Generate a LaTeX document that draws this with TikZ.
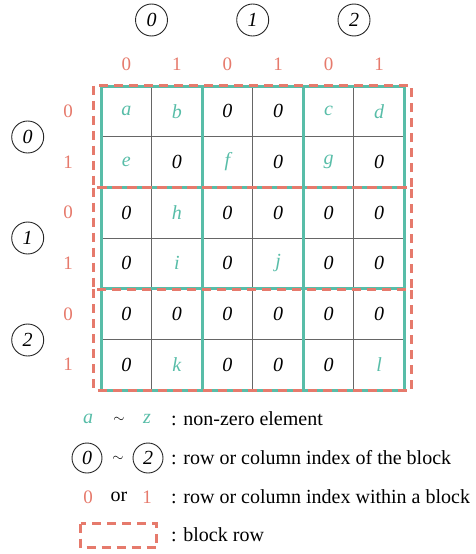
\documentclass[tikz,border=0pt]{standalone}
\usepackage{fontspec}
\setmainfont{Liberation Serif}
\definecolor{tealA}{RGB}{88,189,168}
\definecolor{redA}{RGB}{230,122,108}
\begin{document}
\begin{tikzpicture}[x=1pt,y=-1pt,
  font=\fontsize{20}{24}\selectfont,
  zr/.style={font=\fontsize{20}{24}\selectfont\itshape,text=black},
  nz/.style={font=\fontsize{20}{24}\selectfont\itshape,text=tealA},
  idx/.style={text=redA,font=\fontsize{19}{24}\selectfont},
  blk/.style={circle,draw=black!85,line width=0.9pt,minimum size=32pt,inner sep=0pt,font=\fontsize{20}{24}\selectfont\itshape},
  lblk/.style={blk,minimum size=30pt},
  tld/.style={font=\fontsize{14}{16}\selectfont,inner sep=0pt},
  thinline/.style={draw=black!60,line width=0.9pt},
  tealline/.style={draw=tealA,line width=3pt},
  brow/.style={draw=redA,line width=3pt,dash pattern=on 9pt off 6pt},
  legtxt/.style={anchor=west,inner sep=0pt}
]
\useasboundingbox (0,0) rectangle (475,554);
\def\cw{50.58}
\def\ch{50.67}
% cells
\foreach [count=\i from 0] \row in {{a,b,0,0,c,d},{e,0,f,0,g,0},{0,h,0,0,0,0},{0,i,0,j,0,0},{0,0,0,0,0,0},{0,k,0,0,0,l}} {
  \foreach [count=\j from 0] \v in \row {
    \if0\v \def\st{zr}\else\def\st{nz}\fi
    \node[\st] (c\i\j) at ({101+\cw*(\j+0.5)},{86+\ch*(\i+0.5)}) {\v};
  }
}
% thin lines
\foreach \j in {1,3,5} \draw[thinline] ({101+\cw*\j},86) -- ({101+\cw*\j},390);
\foreach \i in {1,3,5} \draw[thinline] (101,{86+\ch*\i}) -- (404.5,{86+\ch*\i});
% thick teal lines
\foreach \j in {0,2,4,6} \draw[tealline] ({101+\cw*\j},86) -- ({101+\cw*\j},390);
\foreach \i in {0,2,4,6} \draw[tealline] (101,{86+\ch*\i}) -- (404.5,{86+\ch*\i});
% block rows
\draw[brow] (93.5,85.5) rectangle (411,187.5);
\draw[brow] (93.5,187.5) rectangle (411,289);
\draw[brow] (93.5,289) rectangle (411,390);
% top labels
\foreach [count=\k from 0] \x in {151.5,252.7,354} {
  \node[blk] (tb\k) at (\x,20) {\k};
}
\foreach \j in {0,...,5} {
  \pgfmathtruncatemacro\d{mod(\j,2)}
  \node[idx] (tc\j) at ({101+\cw*(\j+0.5)},64) {\d};
}
% left labels
\foreach [count=\k from 0] \y in {137,238,340} {
  \node[blk] (lb\k) at (27.7,\y) {\k};
}
\foreach \i in {0,...,5} {
  \pgfmathtruncatemacro\d{mod(\i,2)}
  \node[idx] (lc\i) at (68,{86+\ch*(\i+0.5)}) {\d};
}
% legend
\node[nz] (la) at (88,419) {a};
\node[tld] (lt1) at (119,420) {$\sim$};
\node[nz] (lz) at (147,419) {z};
\node[legtxt] (l1) at (171,419) {: non-zero element};
\node[lblk] (lc0) at (87,458) {0};
\node[tld] (lt2) at (118,459) {$\sim$};
\node[lblk] (lc2) at (148,458) {2};
\node[legtxt] (l2) at (171,458) {: row or column index of the block};
\node[idx] (lr0) at (88,497) {0};
\node (lor) at (119,497) {or};
\node[idx] (lr1) at (147,497) {1};
\node[legtxt] (l3) at (171,497) {: row or column index within a block};
\draw[brow] (80.5,523.5) rectangle (156.5,547.5);
\node[legtxt] (l4) at (171,535) {: block row};
\end{tikzpicture}
\end{document}
